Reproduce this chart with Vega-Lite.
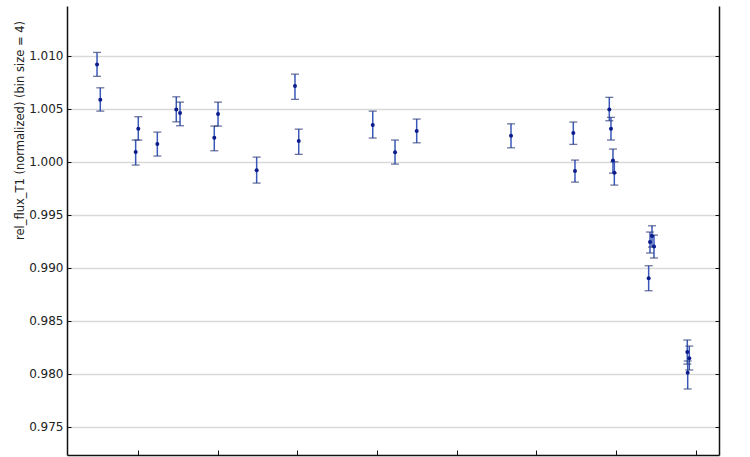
{
  "$schema": "https://vega.github.io/schema/vega-lite/v6.json",
  "autosize": "none",
  "width": 652,
  "height": 449,
  "padding": {"left": 67, "top": 6, "right": 31, "bottom": 2},
  "background": "white",
  "config": {
    "view": {"stroke": null},
    "axis": {"labelFont": "DejaVu Sans", "titleFont": "DejaVu Sans", "labelColor": "#222", "titleColor": "#222", "domainColor": "#111", "tickColor": "#111", "gridColor": "#d9d9d9", "gridWidth": 1.5}
  },
  "data": {"values": [
    {"t": 0.487, "flux": 1.00919, "lo": 1.00806, "hi": 1.01032},
    {"t": 0.528, "flux": 1.00585, "lo": 1.00478, "hi": 1.00698},
    {"t": 0.972, "flux": 1.00092, "lo": 0.99969, "hi": 1.00205},
    {"t": 1.005, "flux": 1.00311, "lo": 1.00205, "hi": 1.00425},
    {"t": 1.244, "flux": 1.00167, "lo": 1.00054, "hi": 1.0028},
    {"t": 1.482, "flux": 1.00494, "lo": 1.00377, "hi": 1.00613},
    {"t": 1.529, "flux": 1.0046, "lo": 1.0034, "hi": 1.00563},
    {"t": 1.959, "flux": 1.00226, "lo": 1.00104, "hi": 1.00337},
    {"t": 2.006, "flux": 1.0045, "lo": 1.00337, "hi": 1.00563},
    {"t": 2.491, "flux": 0.99919, "lo": 0.99799, "hi": 1.00044},
    {"t": 2.972, "flux": 1.00714, "lo": 1.00589, "hi": 1.00827},
    {"t": 3.019, "flux": 1.00195, "lo": 1.0007, "hi": 1.00308},
    {"t": 3.948, "flux": 1.00346, "lo": 1.00224, "hi": 1.00478},
    {"t": 4.228, "flux": 1.00091, "lo": 0.99978, "hi": 1.00205},
    {"t": 4.5, "flux": 1.0029, "lo": 1.00179, "hi": 1.00403},
    {"t": 5.684, "flux": 1.00245, "lo": 1.00132, "hi": 1.00358},
    {"t": 6.466, "flux": 1.00271, "lo": 1.00164, "hi": 1.00375},
    {"t": 6.487, "flux": 0.99912, "lo": 0.99808, "hi": 1.00016},
    {"t": 6.918, "flux": 1.00494, "lo": 1.00387, "hi": 1.00608},
    {"t": 6.939, "flux": 1.00311, "lo": 1.00205, "hi": 1.00419},
    {"t": 6.964, "flux": 1.00013, "lo": 0.99893, "hi": 1.0012},
    {"t": 6.981, "flux": 0.99896, "lo": 0.9978, "hi": 1.0},
    {"t": 7.454, "flux": 0.99299, "lo": 0.99195, "hi": 0.99396},
    {"t": 7.429, "flux": 0.99242, "lo": 0.99139, "hi": 0.99337},
    {"t": 7.479, "flux": 0.992, "lo": 0.99092, "hi": 0.99308},
    {"t": 7.412, "flux": 0.989, "lo": 0.98783, "hi": 0.99019},
    {"t": 7.897, "flux": 0.98205, "lo": 0.98091, "hi": 0.98318},
    {"t": 7.922, "flux": 0.98145, "lo": 0.98035, "hi": 0.98261},
    {"t": 7.902, "flux": 0.98009, "lo": 0.97856, "hi": 0.9812}
  ]},
  "encoding": {
    "x": {"field": "t", "type": "quantitative", "scale": {"domain": [0.11, 8.295], "nice": false, "zero": false},
          "axis": {"title": null, "labels": false, "values": [1, 2, 3, 4, 5, 6, 7, 8], "tickSize": -5, "grid": false, "domainWidth": 1.5}}
  },
  "layer": [
    {
      "mark": {"type": "rule", "color": "#3a58b8", "strokeWidth": 1.5},
      "encoding": {
        "y": {"field": "lo", "type": "quantitative", "scale": {"domain": [0.97233, 1.0147], "nice": false, "zero": false},
              "axis": {"title": "rel_flux_T1 (normalized) (bin size = 4)", "orient": "left", "values": [0.975, 0.98, 0.985, 0.99, 0.995, 1.0, 1.005, 1.01], "format": ".3f", "labelFontSize": 12, "titleFontSize": 11.5, "titleFontWeight": "normal", "tickSize": -4, "labelPadding": 8, "domainWidth": 1.5, "titleAngle": 270, "titleX": -47, "titleY": 124, "titleAlign": "center", "titleBaseline": "middle"}},
        "y2": {"field": "hi"}
      }
    },
    {
      "mark": {"type": "tick", "orient": "horizontal", "color": "#2c3a78", "size": 8, "thickness": 1.3},
      "encoding": {"y": {"field": "lo", "type": "quantitative", "axis": null}}
    },
    {
      "mark": {"type": "tick", "orient": "horizontal", "color": "#2c3a78", "size": 8, "thickness": 1.3},
      "encoding": {"y": {"field": "hi", "type": "quantitative", "axis": null}}
    },
    {
      "mark": {"type": "point", "filled": true, "color": "#0b1c8c", "size": 16, "opacity": 1},
      "encoding": {
        "y": {"field": "flux", "type": "quantitative",
              "axis": {"orient": "right", "title": null, "labels": false, "grid": false, "values": [0.975, 0.98, 0.985, 0.99, 0.995, 1.0, 1.005, 1.01], "tickSize": -4, "domainWidth": 1.5}}
      }
    }
  ],
  "resolve": {"axis": {"y": "independent"}}
}
